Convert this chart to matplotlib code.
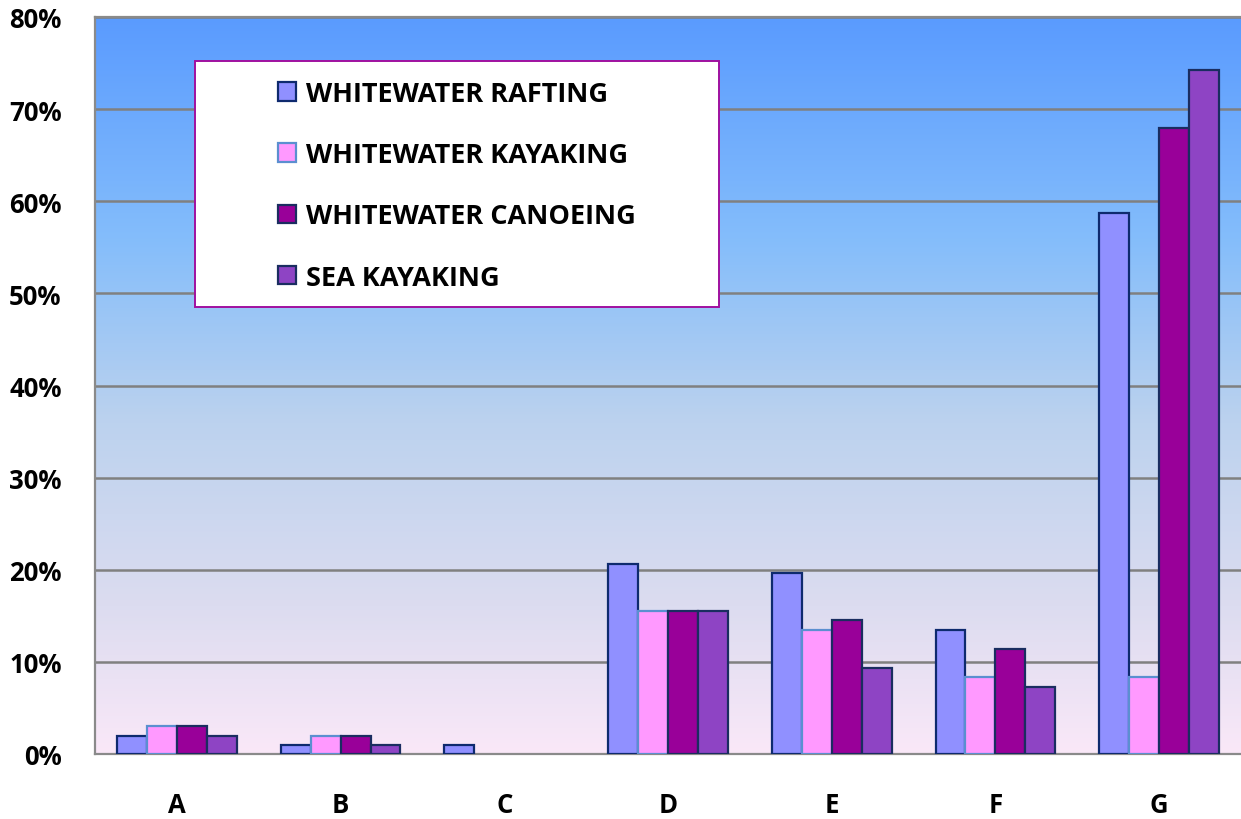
import numpy as np
import matplotlib
matplotlib.use('Agg')
import matplotlib.pyplot as plt
from matplotlib.colors import LinearSegmentedColormap
from matplotlib.patches import Rectangle

categories = ['A', 'B', 'C', 'D', 'E', 'F', 'G']
rafting = [2, 1, 1, 20.6, 19.6, 13.5, 58.7]
kayaking = [3, 2, 0, 15.5, 13.5, 8.4, 8.4]
canoeing = [3, 2, 0, 15.5, 14.5, 11.4, 68.0]
sea_kayaking = [2, 1, 0, 15.5, 9.3, 7.3, 74.2]
series_names = ['WHITEWATER RAFTING', 'WHITEWATER KAYAKING',
                'WHITEWATER CANOEING', 'SEA KAYAKING']
y_ticks = [0, 10, 20, 30, 40, 50, 60, 70, 80]

plt.rcParams['font.family'] = ['Open Sans', 'DejaVu Sans']

fig = plt.figure(figsize=(12.41, 8.20), dpi=100)
ax = fig.add_axes([95 / 1241, 65 / 820, 1 - 95 / 1241, (755 - 18) / 820])

# background gradient (blue at top -> pale pink at bottom)
grad = LinearSegmentedColormap.from_list(
    'bg', [(0.0, '#5a9bff'), (0.3, '#84bdfb'), (0.55, '#bcd2ee'),
           (0.8, '#dcdcf0'), (1.0, '#fae8f8')])
ax.imshow(np.linspace(0, 1, 256).reshape(-1, 1), cmap=grad, aspect='auto',
          extent=[0, 1, 0, 1], transform=ax.transAxes, zorder=0)

x = np.arange(len(categories))
w = 0.183
data = [rafting, kayaking, canoeing, sea_kayaking]
fills = ['#9090ff', '#ff99ff', '#990099', '#8e44c4']
edges = ['#0e2a6e', '#5b8fd0', '#1a2d60', '#1a2d60']
for i, (vals, fc, ec) in enumerate(zip(data, fills, edges)):
    vals = np.array(vals)
    ax.bar(x + (i - 1.5) * w, vals, width=w, color=fc, edgecolor=ec,
           linewidth=np.where(vals == 0, 0, 1.6), zorder=3,
           label=series_names[i])

ax.set_xlim(-0.5, 6.5)
ax.set_ylim(0, 80)
ax.set_yticks(y_ticks)
ax.set_yticklabels([f'{v}%' for v in y_ticks], fontsize=18.5, fontweight='bold')
ax.set_xticks(x)
ax.set_xticklabels(categories, fontsize=18.5, fontweight='bold')
ax.tick_params(axis='y', length=0, pad=24)
ax.tick_params(axis='x', length=0, pad=27)
ax.yaxis.grid(True, color='#808080', linewidth=1.8, zorder=2)
for s in ['left', 'bottom', 'top']:
    ax.spines[s].set_color('#8a8a8a')
    ax.spines[s].set_linewidth(1.6)
ax.spines['right'].set_visible(False)

# legend box
box = Rectangle((100 / 1146, 1 - 290 / 737), 524 / 1146, 246 / 737,
                transform=ax.transAxes, facecolor='white',
                edgecolor='#a0109f', linewidth=1.4, zorder=5)
ax.add_patch(box)
leg = ax.legend(loc='upper left', bbox_to_anchor=(183 / 1146, 1 - 64 / 737),
                frameon=False, prop={'weight': 'bold', 'size': 19.5},
                handlelength=0.68, handleheight=0.68, handletextpad=0.35,
                labelspacing=1.3, borderpad=0, borderaxespad=0)
leg.set_zorder(6)

fig.savefig('out.png', dpi=100)
